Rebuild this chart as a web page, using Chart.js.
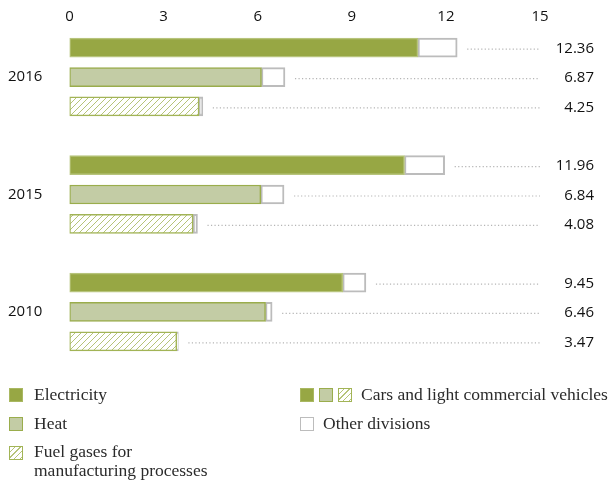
<!DOCTYPE html>
<html>
<head>
<meta charset="utf-8">
<script src="https://cdn.jsdelivr.net/npm/chart.js@4.4.1/dist/chart.umd.min.js"></script>
<style>
  body { margin: 0; background: #fff; }
  #wrap { position: relative; width: 614px; height: 484px; }
  #chart { position: absolute; left: 0; top: 0; }
  .item { position: absolute; white-space: nowrap; line-height: 19px;
          font-family: "Liberation Serif", serif; font-size: 17.5px; color: #2b2b2b; }
  .sw { position: absolute; width: 14px; height: 14px; box-sizing: border-box; }
  .elec { background: #97a744; border: 1px solid #a9b861; }
  .heat { background: #c3cca5; border: 1px solid #9aad4c; }
  .fuel { border: 1px solid #a2b456;
          background: repeating-linear-gradient(135deg, #fff 0 3px, #b6c479 3px 4px); }
  .other { background: #fff; border: 1.5px solid #bcbcbc; }
</style>
</head>
<body>
<div id="wrap">
  <canvas id="chart" width="614" height="484"></canvas>

  <div class="sw elec" style="left:9px;top:388px"></div>
  <div class="item" style="left:34px;top:385px">Electricity</div>
  <div class="sw heat" style="left:9px;top:417px"></div>
  <div class="item" style="left:34px;top:414px">Heat</div>
  <div class="sw fuel" style="left:9px;top:446px"></div>
  <div class="item" style="left:34px;top:442px">Fuel gases for<br>manufacturing processes</div>

  <div class="sw elec" style="left:300px;top:388px"></div>
  <div class="sw heat" style="left:319px;top:388px"></div>
  <div class="sw fuel" style="left:338px;top:388px"></div>
  <div class="item" style="left:361px;top:385px">Cars and light commercial vehicles</div>
  <div class="sw other" style="left:300px;top:417px"></div>
  <div class="item" style="left:323px;top:414px">Other divisions</div>
</div>

<script>
// Data
const years = ['2016', '2015', '2010'];
const sources = ['Electricity', 'Heat', 'Fuel gases for manufacturing processes'];
const carsValues = [[11.11, 6.12, 4.13], [10.68, 6.10, 3.94], [8.71, 6.25, 3.42]];
const otherValues = [[1.25, 0.75, 0.12], [1.28, 0.74, 0.14], [0.74, 0.21, 0.05]];
const totalLabels = [['12.36', '6.87', '4.25'], ['11.96', '6.84', '4.08'], ['9.45', '6.46', '3.47']];
const xTicks = [0, 3, 6, 9, 12, 15];

Chart.defaults.font.family = '"Open Sans", sans-serif';
Chart.defaults.color = '#111';

// hatch pattern for fuel gases
function makeHatch() {
  const c = document.createElement('canvas');
  c.width = 6; c.height = 6;
  const g = c.getContext('2d');
  g.fillStyle = '#fff';
  g.fillRect(0, 0, 6, 6);
  g.strokeStyle = '#b6c479';
  g.lineWidth = 1;
  g.beginPath();
  g.moveTo(0, 6); g.lineTo(6, 0);
  g.moveTo(-1, 1); g.lineTo(1, -1);
  g.moveTo(5, 7); g.lineTo(7, 5);
  g.stroke();
  return g.createPattern(c, 'repeat');
}
const hatch = makeHatch();

const fills = ['#97a744', '#c3cca5', hatch];
const edges = ['#b7c47c', '#9aad4c', '#a2b456'];

// one row per bar, with an empty row between the year groups
const rowLabels = [], carsRow = [], otherRow = [], totalRow = [];
const carFill = [], carEdge = [];
years.forEach((y, i) => {
  sources.forEach((s, j) => {
    rowLabels.push(j === 1 ? y : '');
    carsRow.push(carsValues[i][j]);
    otherRow.push(otherValues[i][j]);
    totalRow.push(totalLabels[i][j]);
    carFill.push(fills[j]);
    carEdge.push(edges[j]);
  });
  if (i < years.length - 1) {
    rowLabels.push('');
    carsRow.push(null); otherRow.push(null); totalRow.push(null);
    carFill.push('#fff'); carEdge.push('#fff');
  }
});

// dotted leaders + totals on the right
const totalsPlugin = {
  id: 'totals',
  afterDatasetsDraw(chart) {
    const ctx = chart.ctx;
    const meta = chart.getDatasetMeta(1);
    const xEnd = chart.scales.x.getPixelForValue(15);
    ctx.save();
    meta.data.forEach((bar, i) => {
      if (totalRow[i] == null) return;
      const y = bar.y + 1.5;
      ctx.strokeStyle = '#b5b5b5';
      ctx.lineWidth = 1.2;
      ctx.setLineDash([1.2, 2.3]);
      ctx.beginPath();
      ctx.moveTo(bar.x + 10, y);
      ctx.lineTo(xEnd, y);
      ctx.stroke();
      ctx.setLineDash([]);
      ctx.fillStyle = '#111';
      ctx.font = '15px "Open Sans", sans-serif';
      ctx.textAlign = 'right';
      ctx.textBaseline = 'middle';
      ctx.fillText(totalRow[i], chart.width - 20, bar.y + 1);
    });
    ctx.restore();
  }
};

new Chart(document.getElementById('chart'), {
  type: 'bar',
  data: {
    labels: rowLabels,
    datasets: [
      {
        label: 'Cars and light commercial vehicles',
        data: carsRow,
        backgroundColor: carFill,
        borderColor: carEdge,
        borderWidth: 1.5,
        borderSkipped: false,
        barThickness: 19
      },
      {
        label: 'Other divisions',
        data: otherRow,
        backgroundColor: '#fff',
        borderColor: '#bcbcbc',
        borderWidth: 2,
        borderSkipped: false,
        barThickness: 19
      }
    ]
  },
  options: {
    indexAxis: 'y',
    responsive: false,
    animation: false,
    layout: { padding: { left: 8, right: 74, top: 0, bottom: 128 } },
    plugins: { legend: { display: false }, tooltip: { enabled: false } },
    scales: {
      x: {
        position: 'top',
        stacked: true,
        min: 0,
        max: 15,
        afterBuildTicks: (scale) => { scale.ticks = xTicks.map(v => ({ value: v })); },
        afterFit: (scale) => { scale.height = 33; },
        grid: { display: false, drawTicks: false },
        border: { display: false },
        ticks: { font: { size: 15 }, padding: 7, maxRotation: 0 }
      },
      y: {
        stacked: true,
        afterFit: (scale) => { scale.width = 61.5; },
        grid: { display: false, drawTicks: false },
        border: { display: false },
        ticks: { font: { size: 15 }, crossAlign: 'far', padding: 0, autoSkip: false }
      }
    }
  },
  plugins: [totalsPlugin]
});
</script>
</body>
</html>
